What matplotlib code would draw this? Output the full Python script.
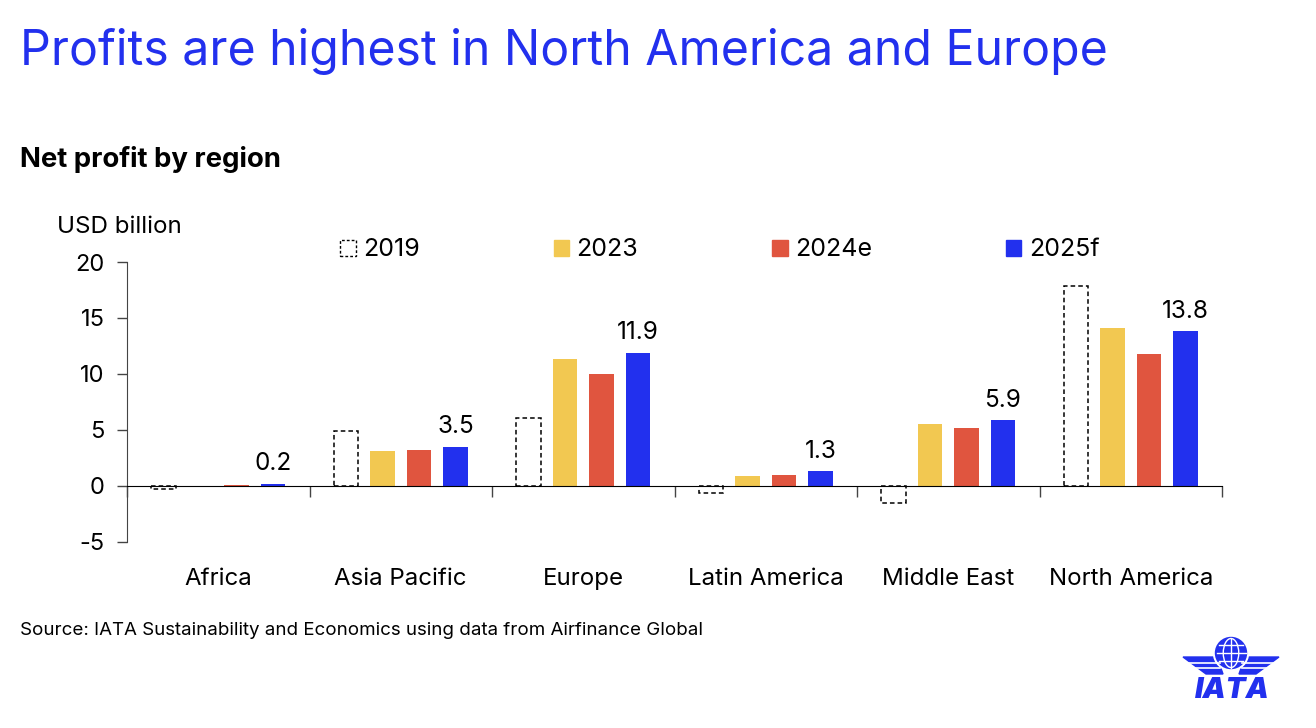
import matplotlib.pyplot as plt
from matplotlib.patches import Patch, Circle, Ellipse, Polygon
import numpy as np

plt.rcParams['font.family'] = ['Inter', 'DejaVu Sans']
plt.rcParams['axes.unicode_minus'] = False

regions = ['Africa', 'Asia Pacific', 'Europe', 'Latin America', 'Middle East', 'North America']
series = ['2019', '2023', '2024e', '2025f']
v2019 = [-0.3, 4.9, 6.1, -0.6, -1.5, 17.9]
v2023 = [0.0, 3.1, 11.3, 0.9, 5.5, 14.1]
v2024 = [0.1, 3.2, 10.0, 1.0, 5.2, 11.8]
v2025 = [0.2, 3.5, 11.9, 1.3, 5.9, 13.8]
labels_2025 = ['0.2', '3.5', '11.9', '1.3', '5.9', '13.8']

blue = '#2230EE'
yellow = '#F2C851'
red = '#E0553F'

W, H = 1316, 728
fig = plt.figure(figsize=(W / 100, H / 100), dpi=100)
ax = fig.add_axes([127 / W, 1 - 542 / H, (1222 - 127) / W, (542 - 262) / H])

x = np.arange(len(regions))
bw = 0.135
ax.bar(x - 0.3, v2019, bw, facecolor='none', edgecolor='black', linestyle=(0, (3, 2)), linewidth=1.1)
ax.bar(x - 0.1, v2023, bw, color=yellow)
ax.bar(x + 0.1, v2024, bw, color=red)
b25 = ax.bar(x + 0.3, v2025, bw, color=blue)
for rect, lab in zip(b25, labels_2025):
    ax.annotate(lab, (rect.get_x() + rect.get_width() / 2, rect.get_height()),
                xytext=(0, 6), textcoords='offset points', ha='center', va='bottom', fontsize=17.5)

ax.set_xlim(-0.5, len(regions) - 0.5)
ax.set_ylim(-5, 20)
ax.set_yticks(range(-5, 21, 5))
ax.tick_params(axis='y', labelsize=17, length=7, width=1, color='#444444', pad=9)
ax.set_xticks(np.arange(-0.5, len(regions), 1.0))
ax.set_xticklabels([])
ax.tick_params(axis='x', length=8, width=1, color='#444444')
ax.spines['top'].set_visible(False)
ax.spines['right'].set_visible(False)
ax.spines['bottom'].set_position(('data', 0))
ax.spines['left'].set_color('#444444')
for i, r in enumerate(regions):
    ax.text(i, -0.155, r, transform=ax.get_xaxis_transform(), ha='center', va='baseline', fontsize=17.3)

handles = [Patch(facecolor='none', edgecolor='black', linestyle=(0, (2, 1.5)), linewidth=1),
           Patch(color=yellow), Patch(color=red), Patch(color=blue)]
fig.legend(handles, series, loc='center left', bbox_to_anchor=(340 / W, 1 - 250 / H), ncol=4,
           frameon=False, fontsize=18, handlelength=0.62, handleheight=0.62, handletextpad=0.3,
           columnspacing=5.35, borderpad=0, borderaxespad=0)

fig.text(20 / W, 1 - 65 / H, 'Profits are highest in North America and Europe', color=blue,
         fontsize=34.7, va='baseline', ha='left')
fig.text(20 / W, 1 - 167 / H, 'Net profit by region', fontsize=19.8, fontweight='bold', va='baseline')
fig.text(57 / W, 1 - 233 / H, 'USD billion', fontsize=17.4, va='baseline')
fig.text(20 / W, 1 - 635 / H, 'Source: IATA Sustainability and Economics using data from Airfinance Global',
         fontsize=13.5, va='baseline')

# IATA logo
lg = fig.add_axes([1170 / W, 1 - 705 / H, 120 / W, 80 / H])
lg.set_xlim(0, 120)
lg.set_ylim(0, 80)
lg.axis('off')
cx, cy, rr = 61, 52, 15.5
lg.add_patch(Polygon([[13, 48], [47, 48], [53, 31], [36, 31]], color=blue))
lg.add_patch(Polygon([[109, 48], [75, 48], [69, 31], [86, 31]], color=blue))
for wy in (42.5, 37):
    lg.plot([14, 50], [wy, wy], color='white', lw=1.2)
    lg.plot([72, 108], [wy, wy], color='white', lw=1.2)
lg.add_patch(Circle((cx, cy), rr + 2, color='white'))
lg.add_patch(Circle((cx, cy), rr, color=blue))
lg.add_patch(Ellipse((cx, cy), rr, rr * 2 - 2, fill=False, ec='white', lw=1))
lg.plot([cx, cx], [cy - rr + 1, cy + rr - 1], color='white', lw=1)
for dy in (-8, 0, 8):
    hw = np.sqrt(rr ** 2 - dy ** 2) - 1
    lg.plot([cx - hw, cx + hw], [cy + dy, cy + dy], color='white', lw=1)
lg.text(62, 15, 'IATA', color=blue, fontsize=21, fontweight='black', style='italic',
        ha='center', va='center')

fig.savefig('out.png', dpi=100)
